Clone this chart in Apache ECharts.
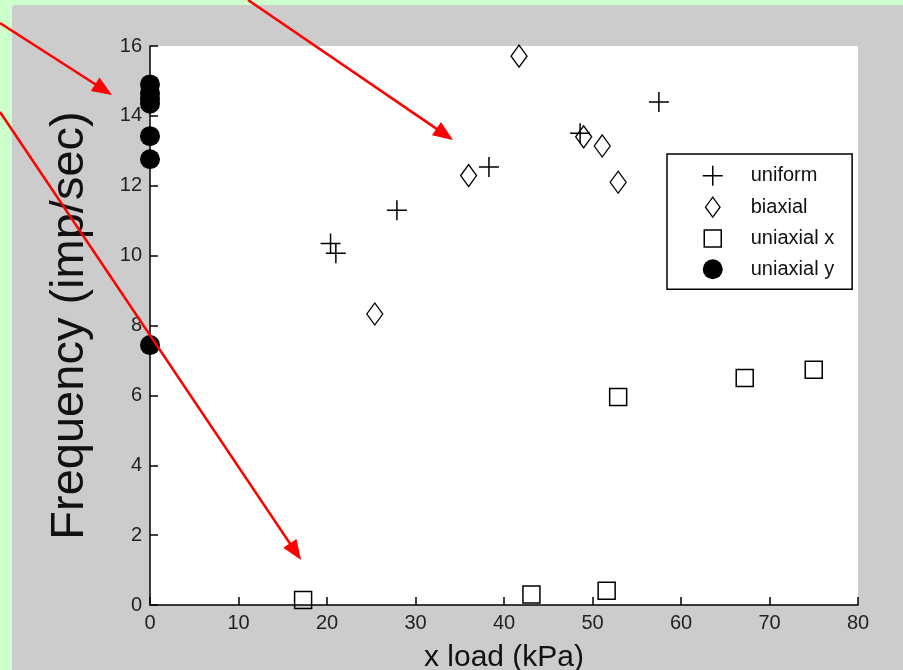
<!DOCTYPE html>
<html>
<head>
<meta charset="utf-8">
<script src="https://cdn.jsdelivr.net/npm/echarts@6/dist/echarts.min.js"></script>
<style>
  html, body { margin: 0; padding: 0; background: #ccffcc; }
  #chart { width: 903px; height: 670px; }
</style>
</head>
<body>
<div id="chart"></div>
<script>
// data
var xTicks = [0, 10, 20, 30, 40, 50, 60, 70, 80]
var yTicks = [0, 2, 4, 6, 8, 10, 12, 14, 16]

var uniformX = [20.4, 21.0, 27.9, 38.3, 48.6, 57.5]
var uniformY = [10.35, 10.07, 11.3, 12.54, 13.5, 14.4]

var biaxialX = [25.4, 36.0, 41.7, 49.0, 51.1, 52.9]
var biaxialY = [8.33, 12.29, 15.71, 13.4, 13.14, 12.1]

var uniaxialXX = [17.3, 43.1, 51.6, 52.9, 67.2, 75.0]
var uniaxialXY = [0.14, 0.3, 0.41, 5.95, 6.5, 6.73]

var uniaxialYX = [0, 0, 0, 0, 0, 0, 0]
var uniaxialYY = [14.9, 14.65, 14.5, 14.35, 13.42, 12.76, 7.44]

function pairs (xs, ys) {
  return xs.map(function (x, i) { return [x, ys[i]] })
}

var plusPath = 'path://M0,10L20,10M10,0L10,20'
var diamondPath = 'path://M8,0L16,11L8,22L0,11Z'
// square with some empty room round it so the legend icon stays small
var legendSquare = 'path://M0,0L0,0M1.5,1.5L18.5,1.5L18.5,18.5L1.5,18.5Z M20,20L20,20'

// red annotation arrows (pixel positions on the page)
function arrow (x1, y1, x2, y2) {
  var dx = x2 - x1, dy = y2 - y1
  var len = Math.sqrt(dx * dx + dy * dy)
  var ux = dx / len, uy = dy / len
  var hl = 20, hw = 8
  var bx = x2 - ux * hl, by = y2 - uy * hl
  return [
    {
      type: 'line', z: 100,
      shape: { x1: x1, y1: y1, x2: bx + ux * 2, y2: by + uy * 2 },
      style: { stroke: '#ff0000', lineWidth: 2.5 }
    },
    {
      type: 'polygon', z: 100,
      shape: { points: [[x2, y2], [bx - uy * hw, by + ux * hw], [bx + uy * hw, by - ux * hw]] },
      style: { fill: '#ff0000' }
    }
  ]
}

var myChart = echarts.init(document.getElementById('chart'))

var option = {
  backgroundColor: '#ccffcc',
  animation: false,
  graphic: [
    {
      type: 'rect', z: -10, silent: true,
      shape: { x: 12, y: 5, width: 900, height: 670, r: 4 },
      style: { fill: '#cccccc' }
    }
  ].concat(arrow(0, 23, 112, 95))
    .concat(arrow(248, 0, 453, 140))
    .concat(arrow(0, 112, 301, 560)),
  grid: {
    left: 150,
    top: 46,
    right: 45,
    bottom: 65,
    outerBoundsMode: 'none',
    containLabel: false,
    show: true,
    backgroundColor: '#ffffff',
    borderWidth: 0
  },
  legend: {
    orient: 'vertical',
    left: 667,
    top: 154,
    padding: [11, 18, 10, 35],
    itemWidth: 26,
    itemHeight: 20,
    itemGap: 10,
    backgroundColor: '#ffffff',
    borderColor: '#000000',
    borderWidth: 1.5,
    borderRadius: 0,
    textStyle: {
      fontFamily: 'Liberation Sans',
      fontSize: 20,
      lineHeight: 20,
      color: '#111111',
      padding: [0, 0, 0, 20]
    },
    data: [
      { name: 'uniform', icon: plusPath, itemStyle: { color: 'transparent', borderColor: '#000', borderWidth: 1.5 } },
      { name: 'biaxial', icon: diamondPath, itemStyle: { color: 'transparent', borderColor: '#000', borderWidth: 1.3 } },
      { name: 'uniaxial x', icon: legendSquare, itemStyle: { color: 'transparent', borderColor: '#000', borderWidth: 1.5 } },
      { name: 'uniaxial y', icon: 'circle', itemStyle: { color: '#000', borderColor: '#000', borderWidth: 0 } }
    ]
  },
  xAxis: {
    type: 'value',
    min: xTicks[0],
    max: xTicks[xTicks.length - 1],
    interval: 10,
    name: 'x load (kPa)',
    nameLocation: 'middle',
    nameGap: 38,
    nameTextStyle: { fontFamily: 'Liberation Sans', fontSize: 30, color: '#111111' },
    axisLine: { show: true, lineStyle: { color: '#000000', width: 1.5 } },
    axisTick: { show: true, inside: true, length: 8, lineStyle: { color: '#000000', width: 1.5 } },
    axisLabel: { fontFamily: 'Liberation Sans', fontSize: 20, color: '#222222', margin: 8 },
    splitLine: { show: false }
  },
  yAxis: {
    type: 'value',
    min: yTicks[0],
    max: yTicks[yTicks.length - 1],
    interval: 2,
    name: 'Frequency (imp/sec)',
    nameLocation: 'middle',
    nameGap: 56,
    nameTextStyle: { fontFamily: 'Liberation Sans', fontSize: 47, color: '#111111' },
    axisLine: { show: true, lineStyle: { color: '#000000', width: 1.5 } },
    axisTick: { show: true, inside: true, length: 8, lineStyle: { color: '#000000', width: 1.5 } },
    axisLabel: { fontFamily: 'Liberation Sans', fontSize: 20, color: '#222222', margin: 8 },
    splitLine: { show: false }
  },
  series: [
    {
      name: 'uniform',
      type: 'scatter',
      symbol: plusPath,
      symbolSize: 20,
      itemStyle: { color: 'transparent', borderColor: '#000000', borderWidth: 1.5, opacity: 1 },
      data: pairs(uniformX, uniformY)
    },
    {
      name: 'biaxial',
      type: 'scatter',
      symbol: diamondPath,
      symbolSize: [16, 22],
      itemStyle: { color: 'transparent', borderColor: '#000000', borderWidth: 1.3, opacity: 1 },
      data: pairs(biaxialX, biaxialY)
    },
    {
      name: 'uniaxial x',
      type: 'scatter',
      symbol: 'rect',
      symbolSize: 17,
      itemStyle: { color: 'transparent', borderColor: '#000000', borderWidth: 1.5, opacity: 1 },
      data: pairs(uniaxialXX, uniaxialXY)
    },
    {
      name: 'uniaxial y',
      type: 'scatter',
      symbol: 'circle',
      symbolSize: 20,
      clip: false,
      itemStyle: { color: '#000000', opacity: 1 },
      data: pairs(uniaxialYX, uniaxialYY)
    }
  ]
}

myChart.setOption(option)
</script>
</body>
</html>
